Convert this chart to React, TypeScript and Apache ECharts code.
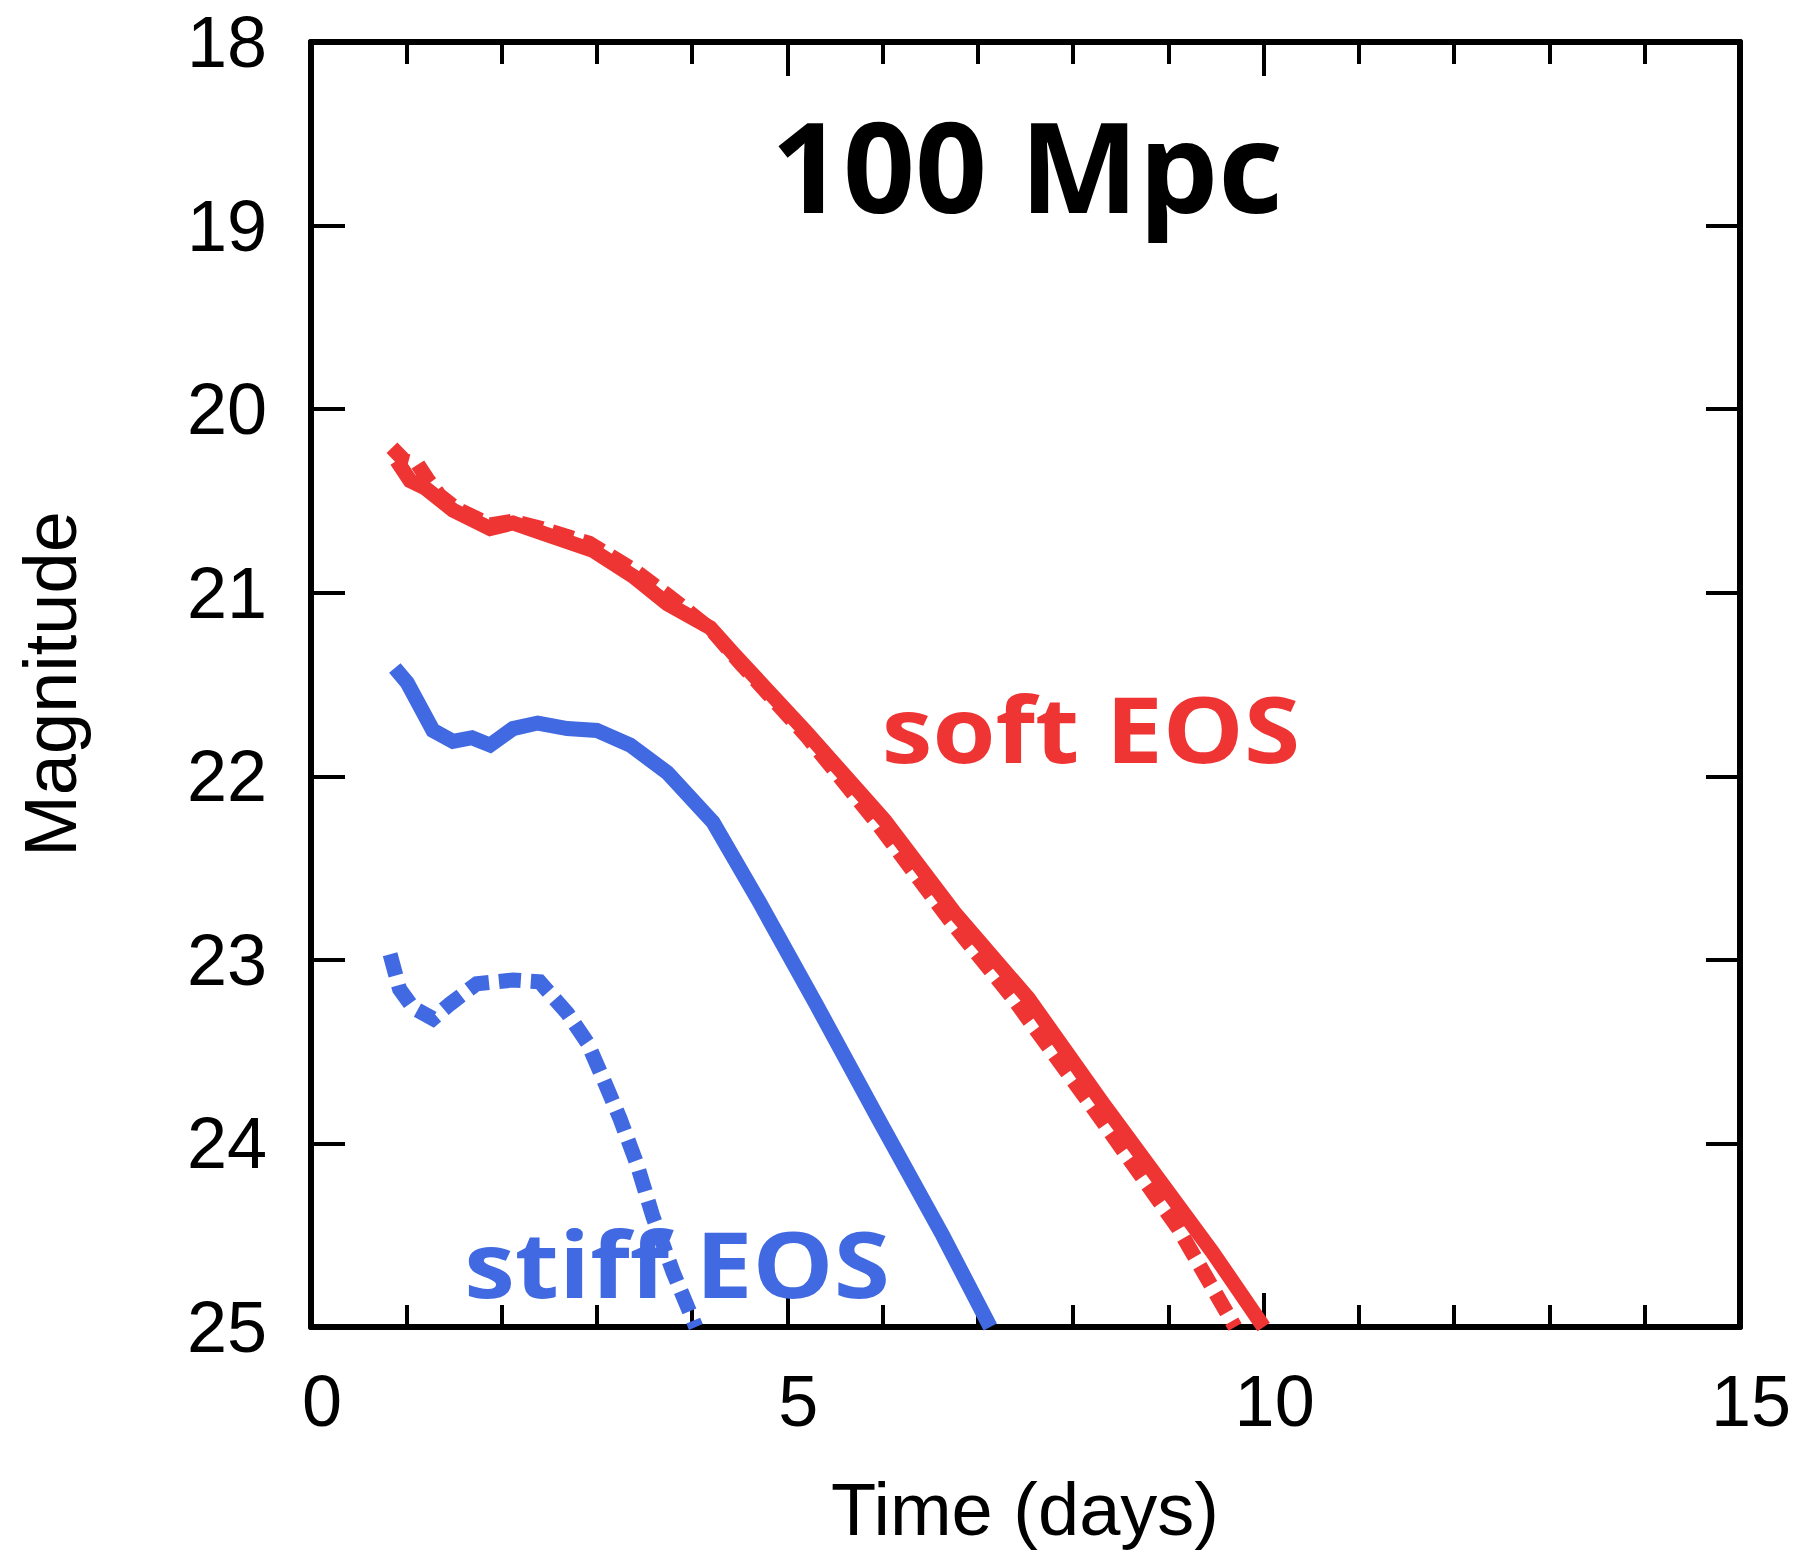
import React, { useEffect, useRef } from "react";
import * as echarts from "echarts";

// ---- data ----
const xTicks = [0, 5, 10, 15];
const yTicks = [18, 19, 20, 21, 22, 23, 24, 25];

const softSolidT = [0.90, 1.04, 1.20, 1.49, 1.88, 2.12, 2.40, 2.96, 3.38, 3.74, 4.19, 4.43, 5.20, 6.02, 6.75, 7.53, 8.31, 9.46, 10.0];
const softSolidM = [20.28, 20.39, 20.43, 20.55, 20.65, 20.62, 20.67, 20.77, 20.91, 21.06, 21.19, 21.33, 21.76, 22.24, 22.74, 23.21, 23.78, 24.59, 25.0];

const softDashT = [0.85, 0.98, 1.12, 1.22, 1.35, 1.52, 1.88, 2.12, 2.42, 2.92, 3.40, 3.76, 4.20, 4.50, 5.20, 5.95, 6.70, 7.37, 8.20, 9.10, 9.70];
const softDashM = [20.21, 20.28, 20.30, 20.38, 20.47, 20.54, 20.63, 20.61, 20.65, 20.73, 20.88, 21.02, 21.20, 21.38, 21.78, 22.26, 22.78, 23.21, 23.80, 24.46, 25.0];

const stiffSolidT = [0.88, 1.01, 1.28, 1.49, 1.69, 1.88, 2.12, 2.38, 2.69, 3.00, 3.35, 3.74, 4.22, 4.70, 5.30, 5.96, 6.63, 7.13];
const stiffSolidM = [21.41, 21.49, 21.75, 21.81, 21.79, 21.83, 21.74, 21.71, 21.74, 21.75, 21.83, 21.98, 22.25, 22.68, 23.24, 23.87, 24.50, 25.0];

const stiffDashT = [0.83, 0.93, 1.07, 1.28, 1.46, 1.74, 2.12, 2.40, 2.69, 2.90, 3.06, 3.24, 3.42, 3.59, 3.80, 4.04];
const stiffDashM = [22.97, 23.16, 23.26, 23.32, 23.24, 23.13, 23.11, 23.12, 23.29, 23.45, 23.64, 23.86, 24.11, 24.40, 24.70, 25.0];

const RED = "#ef3434";
const BLUE = "#4169e1";

const pairs = (t: number[], m: number[]) => t.map((v, i) => [v, m[i]]);

export default function App() {
  const ref = useRef<HTMLDivElement>(null);

  useEffect(() => {
    document.body.style.margin = "0";
    const chart = echarts.init(ref.current!, null, { renderer: "svg" });

    const axisLine = { show: true, onZero: false, lineStyle: { color: "#000", width: 6 } };
    const tickLine = { color: "#000", width: 4 };

    const xBase = {
      type: "value",
      min: 0,
      max: 15,
      interval: 5,
      splitLine: { show: false },
      axisLine,
      axisTick: { show: true, inside: true, length: 34, lineStyle: tickLine },
      minorTick: { show: true, splitNumber: 5, length: 22, lineStyle: tickLine },
      minorSplitLine: { show: false },
    };
    const yBase = {
      type: "value",
      min: 18,
      max: 25,
      interval: 1,
      inverse: true,
      splitLine: { show: false },
      axisLine,
      axisTick: { show: true, inside: true, length: 34, lineStyle: tickLine },
    };

    const lineSeries = (name: string, data: number[][], color: string, dashed: boolean) => ({
      name,
      type: "line",
      data,
      showSymbol: false,
      symbol: "none",
      clip: true,
      lineStyle: {
        color,
        width: 15,
        type: dashed ? [22, 10] : "solid",
        cap: "butt",
        join: "miter",
      },
      z: 3,
    });

    chart.setOption({
      animation: false,
      backgroundColor: "#fff",
      grid: { left: 311, right: 61, top: 42, bottom: 226, containLabel: false },
      xAxis: [
        {
          ...xBase,
          position: "bottom",
          axisLabel: {
            show: true,
            color: "#000",
            fontSize: 72,
            fontFamily: "Liberation Sans",
            margin: 38,
            padding: [0, 0, 0, 22],
            formatter: (v: number) => (xTicks.includes(v) ? String(v) : ""),
          },
        },
        {
          ...xBase,
          position: "top",
          axisLabel: { show: false },
        },
      ],
      yAxis: [
        {
          ...yBase,
          position: "left",
          axisLabel: {
            show: true,
            color: "#000",
            fontSize: 72,
            fontFamily: "Liberation Sans",
            margin: 44,
            formatter: (v: number) => (yTicks.includes(v) ? String(v) : ""),
          },
        },
        {
          ...yBase,
          position: "right",
          axisLabel: { show: false },
        },
      ],
      series: [
        lineSeries("soft EOS dashed", pairs(softDashT, softDashM), RED, true),
        lineSeries("soft EOS", pairs(softSolidT, softSolidM), RED, false),
        lineSeries("stiff EOS", pairs(stiffSolidT, stiffSolidM), BLUE, false),
        lineSeries("stiff EOS dashed", pairs(stiffDashT, stiffDashM), BLUE, true),
      ],
      graphic: [
        {
          type: "text",
          x: 1027,
          y: 164,
          scaleX: 1.0,
          z: 10,
          style: {
            text: "100 Mpc",
            fill: "#000",
            font: "bold 126px 'Open Sans'",
            textAlign: "center",
            textVerticalAlign: "middle",
          },
        },
        {
          type: "text",
          x: 1091,
          y: 728,
          scaleX: 1.12,
          z: 10,
          style: {
            text: "soft EOS",
            fill: RED,
            font: "bold 91px 'Open Sans'",
            textAlign: "center",
            textVerticalAlign: "middle",
          },
        },
        {
          type: "text",
          x: 677,
          y: 1263,
          scaleX: 1.12,
          z: 1,
          style: {
            text: "stiff EOS",
            fill: BLUE,
            font: "bold 91px 'Open Sans'",
            textAlign: "center",
            textVerticalAlign: "middle",
          },
        },
        {
          type: "text",
          x: 1025,
          y: 1509,
          z: 10,
          style: {
            text: "Time (days)",
            fill: "#000",
            font: "74px 'Liberation Sans'",
            textAlign: "center",
            textVerticalAlign: "middle",
          },
        },
        {
          type: "text",
          x: 50,
          y: 684,
          rotation: Math.PI / 2,
          z: 10,
          style: {
            text: "Magnitude",
            fill: "#000",
            font: "74px 'Liberation Sans'",
            textAlign: "center",
            textVerticalAlign: "middle",
          },
        },
      ],
    });

    return () => chart.dispose();
  }, []);

  return (
    <div
      ref={ref}
      style={{ position: "absolute", left: 0, top: 0, width: 1801, height: 1553 }}
    />
  );
}
